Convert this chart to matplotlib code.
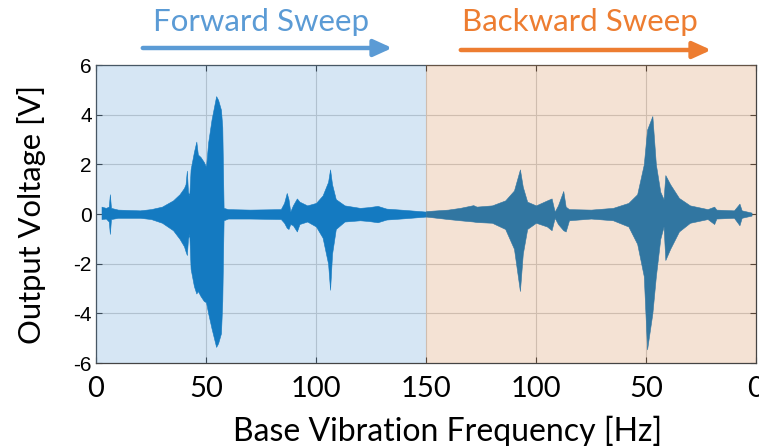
import numpy as np
import matplotlib.pyplot as plt

# forward sweep envelope (frequency in Hz, rising)
fwd_freq = [2.5, 4.5, 5.8, 6.3, 6.8, 10, 20, 25, 30, 35, 38, 40, 40.7, 41.3, 41.8, 42.4,
            43.0, 44.5, 45.6, 46.3, 47.5, 49, 50, 51, 52.5, 54.6, 55.5, 56.8, 57.4, 58.0,
            60, 70, 84, 85.5, 86.7, 87.5, 88.3, 89.5, 91.3, 92.5, 96, 100, 103, 105.5,
            106.4, 107.3, 109, 113, 120, 124, 128, 132, 140, 150]
fwd_upper = [0.30, 0.25, 0.30, 0.80, 0.25, 0.18, 0.15, 0.20, 0.30, 0.55, 0.80, 1.05, 1.20, 1.75, 0.90, 0.75,
             1.80, 2.50, 2.92, 2.40, 2.30, 2.10, 1.90, 2.90, 3.80, 4.75, 4.60, 4.20, 3.50, 0.25,
             0.20, 0.18, 0.20, 0.45, 0.85, 0.60, 0.10, 0.35, 0.63, 0.50, 0.35, 0.45, 0.75, 1.30,
             1.80, 1.20, 0.60, 0.35, 0.25, 0.28, 0.33, 0.22, 0.17, 0.10]
fwd_lower = [-0.20, -0.18, -0.30, -0.80, -0.20, -0.15, -0.15, -0.20, -0.35, -0.65, -1.00, -1.30, -1.50, -1.65, -1.00, -0.80,
             -2.20, -2.90, -3.20, -3.10, -3.30, -3.50, -3.55, -4.00, -4.60, -5.35, -5.20, -4.80, -3.50, -0.25,
             -0.18, -0.18, -0.20, -0.35, -0.55, -0.60, -0.40, -0.45, -0.70, -0.40, -0.30, -0.50, -0.95, -2.00,
             -3.05, -1.60, -0.60, -0.30, -0.25, -0.28, -0.33, -0.22, -0.17, -0.10]

# backward sweep envelope (frequency in Hz, falling)
bwd_freq = [150, 140, 134.5, 128.5, 127, 120, 114, 110, 107.3, 106, 104, 100, 95, 92.9, 91.5,
            90, 87.6, 86.5, 85, 75, 65, 58, 54, 51, 49.5, 47.1, 45.5, 43.5, 42, 41.2, 39,
            35, 30, 22, 19, 18, 10, 7.5, 6.5, 2]
bwd_upper = [0.12, 0.18, 0.25, 0.36, 0.30, 0.35, 0.55, 0.95, 1.80, 1.10, 0.50, 0.35, 0.55, 0.63, 0.10,
             0.35, 0.93, 0.30, 0.20, 0.18, 0.25, 0.45, 0.80, 2.00, 3.40, 3.95, 2.00, 0.90, 0.60, 1.57, 1.20,
             0.65, 0.35, 0.20, 0.30, 0.18, 0.15, 0.42, 0.15, 0.06]
bwd_lower = [-0.10, -0.20, -0.25, -0.30, -0.32, -0.35, -0.60, -1.40, -3.10, -1.60, -0.60, -0.35, -0.50, -0.65, -0.15,
             -0.40, -0.65, -0.70, -0.25, -0.18, -0.25, -0.50, -1.20, -2.50, -5.45, -4.00, -2.50, -1.00, -0.50, -1.85, -1.40,
             -0.70, -0.35, -0.20, -0.40, -0.18, -0.15, -0.45, -0.15, -0.06]

tick_pos = [0, 50, 100, 150, 200, 250, 300]
tick_labels = ['0', '50', '100', '150', '100', '50', '0']

fig = plt.figure(figsize=(7.59, 4.46), dpi=100)
ax = fig.add_axes([0.1265, 0.186, 0.8695, 0.668])

sig_color = '#0072BD'
ax.fill_between(fwd_freq, fwd_lower, fwd_upper, color=sig_color, lw=0.4)
bwd_x = [300 - f for f in bwd_freq]
ax.fill_between(bwd_x, bwd_lower, bwd_upper, color=sig_color, lw=0.4)

# shading goes over everything, like the original
ax.axvspan(0, 150, color=(84/255, 151/255, 209/255), alpha=0.24, lw=0, zorder=5)
ax.axvspan(150, 300, color=(209/255, 134/255, 76/255), alpha=0.24, lw=0, zorder=5)

ax.set_xlim(0, 300)
ax.set_ylim(-6, 6)
ax.set_xticks(tick_pos)
ax.set_xticklabels(tick_labels, fontfamily='Lato', fontsize=21)
ax.set_yticks(range(-6, 7, 2))
ax.set_yticklabels([str(v) for v in range(-6, 7, 2)], fontfamily='Liberation Sans', fontsize=15)
ax.grid(True, color='#cfcfcf', lw=0.8)
ax.set_axisbelow(True)
ax.tick_params(direction='in', top=True, right=True, length=4, color='#333333', pad=3)
ax.tick_params(axis='x', pad=9)
for s in ax.spines.values():
    s.set_color('#444444')
    s.set_linewidth(0.9)

ax.set_xlabel('Base Vibration Frequency [Hz]', fontfamily='Lato', fontsize=23, labelpad=10)
ax.xaxis.label.set_x(0.533)
ax.set_ylabel('Output Voltage [V]', fontfamily='Lato', fontsize=22.3, labelpad=20)

# sweep captions and arrows
fig.text(261 / 759, 1 - 22 / 446, 'Forward Sweep', color='#5B9BD5', fontfamily='Lato',
         fontsize=22.5, ha='center', va='center')
fig.text(580 / 759, 1 - 22 / 446, 'Backward Sweep', color='#ED7D31', fontfamily='Lato',
         fontsize=22.5, ha='center', va='center')
ax.annotate('', xy=(395 / 759, 1 - 48 / 446), xytext=(140 / 759, 1 - 48 / 446),
            xycoords='figure fraction', textcoords='figure fraction',
            arrowprops=dict(arrowstyle='-|>,head_length=1.1,head_width=0.5', color='#5B9BD5', lw=3.2))
ax.annotate('', xy=(714 / 759, 1 - 50 / 446), xytext=(458 / 759, 1 - 50 / 446),
            xycoords='figure fraction', textcoords='figure fraction',
            arrowprops=dict(arrowstyle='-|>,head_length=1.1,head_width=0.5', color='#ED7D31', lw=3.2))

plt.savefig('out.png', dpi=100)
